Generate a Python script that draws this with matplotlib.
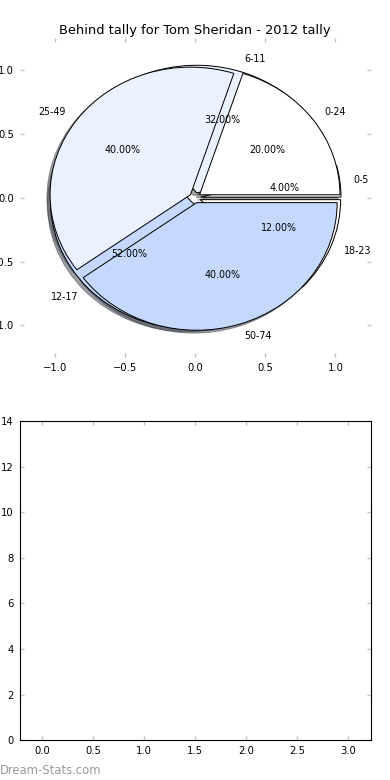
import numpy as np
import matplotlib
matplotlib.use("Agg")
import matplotlib.pyplot as plt

# age-group tallies
small_labels = ["0-5", "6-11", "12-17", "18-23"]
small_values = [4, 32, 52, 12]
big_labels = ["0-24", "25-49", "50-74"]
big_values = [20, 40, 40]
pie_colors = ["#ffffff", "#eaf2ff", "#c5d9ff"]

title = "Behind tally for Tom Sheridan - 2012 tally"
pie_ticks = [-1.0, -0.5, 0.0, 0.5, 1.0]
bottom_xticks = [0.0, 0.5, 1.0, 1.5, 2.0, 2.5, 3.0]
bottom_yticks = [0, 2, 4, 6, 8, 10, 12, 14]


def style_ticks(ax):
    ax.tick_params(direction="in", color="#c0c0c0", length=4, width=1.2,
                   top=True, right=True, labelsize=9, pad=5)


def plotDatas():
    fig = plt.figure(figsize=(4.875, 9.75), dpi=80)
    fig.subplots_adjust(left=0.05, right=0.95, bottom=0.051, top=0.951, hspace=0.2)

    ax = fig.add_subplot(211)
    wp = {"edgecolor": "black", "linewidth": 0.9}
    tp = {"fontsize": 8.6}
    ax.pie(small_values, labels=small_labels, colors=[pie_colors[i % 3] for i in range(4)],
           explode=[0.04] * 4, autopct="%1.2f%%", shadow=True, frame=True,
           wedgeprops=wp, textprops=tp)
    ax.pie(big_values, labels=big_labels, colors=pie_colors,
           explode=[0.04] * 3, autopct="%1.2f%%", shadow=True, frame=True,
           wedgeprops=wp, textprops=tp)
    ax.set_aspect("auto")
    ax.set_frame_on(False)
    ax.set_xlim(-1.25, 1.25)
    ax.set_ylim(-1.25, 1.25)
    ax.set_xticks(pie_ticks)
    ax.set_yticks(pie_ticks)
    style_ticks(ax)
    ax.set_title(title, fontsize=11.7, pad=4)

    ax2 = fig.add_subplot(212)
    ax2.set_xlim(-0.22, 3.22)
    ax2.set_ylim(0, 14)
    ax2.set_xticks(bottom_xticks)
    ax2.set_yticks(bottom_yticks)
    style_ticks(ax2)
    for s in ax2.spines.values():
        s.set_linewidth(1.0)

    fig.text(0.0, 0.004, "Dream-Stats.com", color="#9a9a9a", fontsize=10.5,
             ha="left", va="bottom")
    fig.savefig("out.png", dpi=80)


def main():
    plotDatas()


if __name__ == '__main__':
    main()
